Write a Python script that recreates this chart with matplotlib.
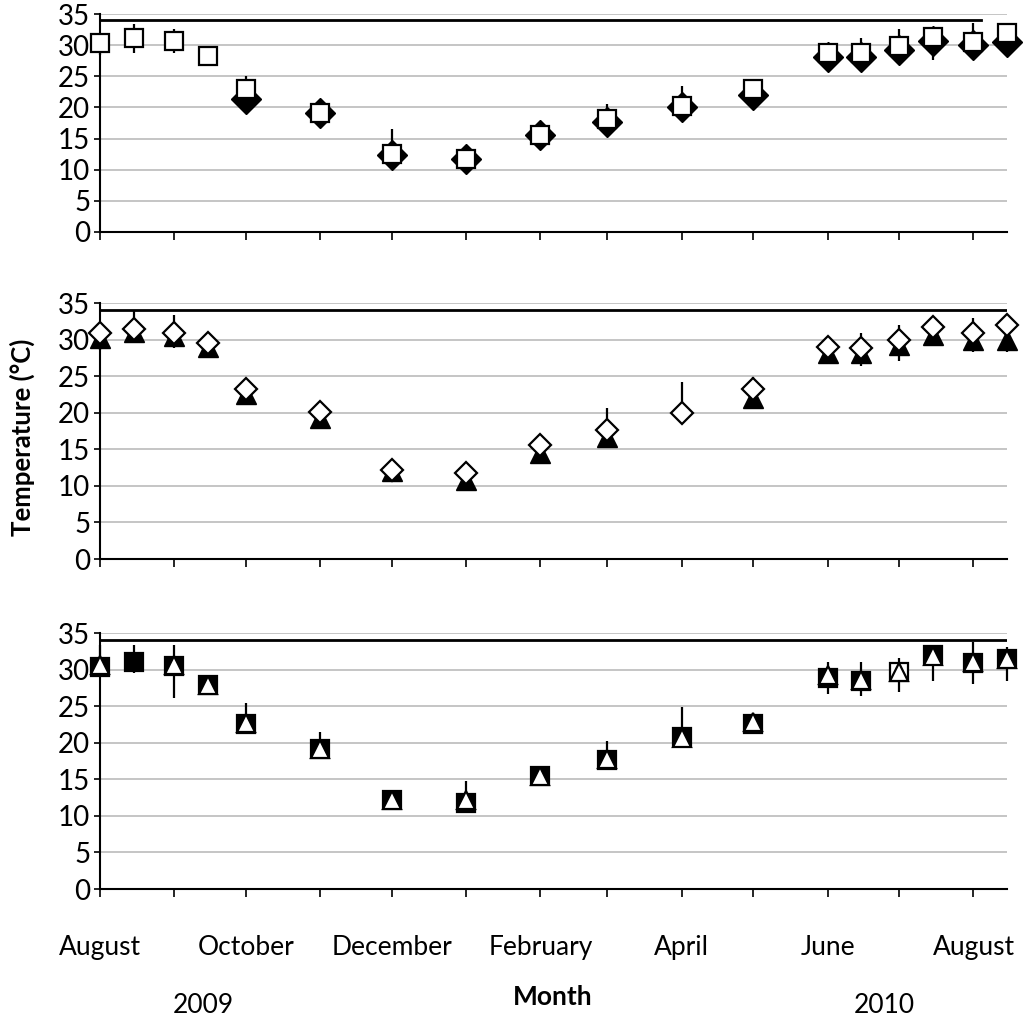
import matplotlib
matplotlib.use("Agg")
import matplotlib.pyplot as plt
import matplotlib.dates as mdates
import numpy as np
import pandas as pd

plt.rcParams['font.family'] = ['Lato', 'DejaVu Sans']

# sampling dates (semi-monthly in summer, monthly otherwise)
dates = pd.to_datetime([
    '2009-08-01', '2009-08-15', '2009-09-01', '2009-09-15', '2009-10-01',
    '2009-11-01', '2009-12-01', '2010-01-01', '2010-02-01', '2010-03-01',
    '2010-04-01', '2010-05-01', '2010-06-01', '2010-06-15', '2010-07-01',
    '2010-07-15', '2010-08-01', '2010-08-15'])
nan = np.nan

# top panel: open squares (with error bars) and filled diamonds
top_square = [30.4, 31.1, 30.6, 28.2, 22.9, 19.1, 12.6, 11.8, 15.6, 18.2,
              20.2, 22.9, 28.7, 28.7, 29.8, 31.3, 30.5, 31.9]
top_err_low = [2.0, 2.4, 1.9, 0.5, 0.5, 0.5, 0.5, 0.5, 0.5, 0.5,
               0.5, 0.5, 0.5, 0.5, 0.5, 3.7, 0.5, 0.5]
top_err_high = [1.0, 2.3, 2.0, 0.5, 2.1, 0.5, 4.0, 0.5, 0.5, 2.3,
                3.2, 0.5, 0.5, 2.4, 2.8, 0.5, 3.0, 0.5]
top_diamond = [nan, nan, nan, nan, 21.3, 19.1, 12.3, 11.8, 15.6, 17.6,
               20.1, 22.0, 28.1, 28.1, 29.3, 30.6, 30.0, 30.5]

# middle panel: open diamonds (with error bars) and filled triangles
mid_diamond = [30.9, 31.4, 30.9, 29.5, 23.2, 20.1, 12.2, 11.7, 15.6, 17.6,
               20.0, 23.2, 29.0, 28.8, 29.9, 31.7, 30.9, 32.0]
mid_err_low = [2.3, 0.5, 2.1, 0.5, 0.5, 0.5, 0.5, 0.5, 0.5, 0.5,
               0.5, 0.5, 0.5, 2.4, 2.8, 2.4, 2.6, 3.7]
mid_err_high = [0.5, 2.6, 2.5, 0.5, 0.5, 0.5, 0.5, 0.5, 0.5, 3.0,
                4.2, 1.7, 0.5, 2.1, 2.1, 0.5, 2.0, 0.8]
mid_triangle = [30.2, 31.0, 30.5, 29.0, 22.5, 19.3, 12.0, 10.8, 14.5, 16.7,
                nan, 22.0, 28.2, 28.2, 29.3, 30.6, 30.0, 29.9]

# bottom panel: filled squares (with error bars) and open triangles
bot_square = [30.4, 31.1, 30.5, 27.9, 22.6, 19.1, 12.2, 11.7, 15.4, 17.6,
              20.8, 22.5, 28.8, 28.4, 29.7, 32.0, 30.9, 31.4]
bot_err_low = [0.5, 1.6, 4.4, 1.0, 0.5, 0.5, 0.5, 0.5, 0.5, 0.5,
               0.5, 0.5, 2.1, 2.0, 2.7, 3.5, 2.9, 2.9]
bot_err_high = [3.0, 2.3, 2.9, 0.5, 2.8, 2.4, 0.5, 3.1, 0.5, 2.7,
                4.1, 0.5, 2.3, 2.7, 1.9, 0.5, 2.9, 1.7]
bot_triangle = [30.6, nan, 30.6, 27.9, 22.7, 19.2, 12.1, 12.2, 15.5, 17.8,
                20.6, 22.8, 29.3, 28.6, 29.7, 31.8, 31.1, 31.5]

# upper temperature limit line
limit_temp = 34
limit_start = '2009-08-01'
limit_end = ['2010-08-04', '2010-08-15', '2010-08-15']

x_start, x_end = pd.Timestamp('2009-08-01'), pd.Timestamp('2010-08-15')

W, H = 1024, 1022
fig = plt.figure(figsize=(W / 100, H / 100), dpi=100)


def px_axes(top_px, bottom_px):
    return fig.add_axes([100 / W, 1 - bottom_px / H, 907 / W,
                         (bottom_px - top_px) / H])


axes = [px_axes(14, 232), px_axes(303, 559), px_axes(633, 889)]

panels = [
    (top_square, top_err_low, top_err_high, top_diamond),
    (mid_diamond, mid_err_low, mid_err_high, mid_triangle),
    (bot_square, bot_err_low, bot_err_high, bot_triangle),
]

for i, ax in enumerate(axes):
    main, err_lo, err_hi, other = panels[i]
    ax.set_xlim(x_start, x_end)
    ax.set_ylim(0, 35)
    ax.set_yticks(range(0, 36, 5))
    ax.yaxis.grid(True, color='#c0c0c0', lw=1.3)
    ax.set_axisbelow(True)
    for side in ('top', 'right'):
        ax.spines[side].set_visible(False)
    for side in ('left', 'bottom'):
        ax.spines[side].set_linewidth(1.5)
    ax.tick_params(axis='y', direction='out', length=4, width=1.2,
                   labelsize=20, pad=3)
    ax.xaxis.set_major_locator(mdates.MonthLocator(bymonth=[8, 10, 12, 2, 4, 6]))
    ax.xaxis.set_minor_locator(mdates.MonthLocator())
    ax.xaxis.set_major_formatter(mdates.DateFormatter('%B'))
    ax.tick_params(axis='x', which='both', direction='out', length=6,
                   width=1.2, labelsize=19, pad=27)
    if i < 2:
        ax.tick_params(axis='x', labelbottom=False)

    ax.plot(pd.to_datetime([limit_start, limit_end[i]]),
            [limit_temp, limit_temp], color='black', lw=2, zorder=2.5)
    ax.errorbar(dates, main, yerr=[err_lo, err_hi], fmt='none',
                ecolor='black', elinewidth=1.6, capsize=0, zorder=2.6,
                clip_on=False)

    if i == 0:
        ax.plot(dates, other, ls='none', marker='D', ms=15, mfc='black',
                mec='black', zorder=3, clip_on=False)
        ax.plot(dates, main, ls='none', marker='s', ms=13.5, mfc='white',
                mec='black', mew=1.6, zorder=4, clip_on=False)
    elif i == 1:
        ax.plot(dates, other, ls='none', marker='^', ms=14, mfc='black',
                mec='black', zorder=3, clip_on=False)
        ax.plot(dates, main, ls='none', marker='D', ms=11, mfc='white',
                mec='black', mew=1.6, zorder=4, clip_on=False)
    else:
        for d, v in zip(dates, main):
            fc = 'white' if d == pd.Timestamp('2010-07-01') else 'black'
            ax.plot([d], [v], ls='none', marker='s', ms=13.5, mfc=fc,
                    mec='black', mew=1.6, zorder=3, clip_on=False)
        ax.plot(dates, other, ls='none', marker='^', ms=13.5, mfc='white',
                mec='black', mew=1.6, zorder=4, clip_on=False)

fig.text(22 / W, 1 - 437 / H, 'Temperature (°C)', rotation=90, fontsize=18.5,
         fontweight='bold', ha='center', va='center')
fig.text(553 / W, 1 - 997 / H, 'Month', fontsize=19, fontweight='bold',
         ha='center', va='center')
fig.text(203 / W, 1 - 1005 / H, '2009', fontsize=19, ha='center', va='center')
fig.text(884 / W, 1 - 1005 / H, '2010', fontsize=19, ha='center', va='center')

fig.savefig('out.png', dpi=100, facecolor='white')
